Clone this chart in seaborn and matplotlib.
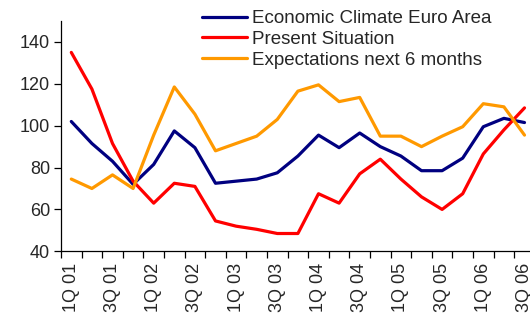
import matplotlib
matplotlib.use("Agg")
import matplotlib.pyplot as plt
import seaborn as sns
import pandas as pd
import numpy as np

quarters = ["1Q 01", "2Q 01", "3Q 01", "4Q 01",
            "1Q 02", "2Q 02", "3Q 02", "4Q 02",
            "1Q 03", "2Q 03", "3Q 03", "4Q 03",
            "1Q 04", "2Q 04", "3Q 04", "4Q 04",
            "1Q 05", "2Q 05", "3Q 05", "4Q 05",
            "1Q 06", "2Q 06", "3Q 06"]

climate = [102, 91.5, 83, 72, 81.5, 97.5, 89.5, 72.5, 73.5, 74.5, 77.5, 85.5,
           95.5, 89.5, 96.5, 90, 85.5, 78.5, 78.5, 84.5, 99.5, 103.5, 101.5]
present = [135, 117.5, 91.5, 73.5, 63, 72.5, 71, 54.5, 52, 50.5, 48.5, 48.5,
           67.5, 63, 77, 84, 74.5, 66, 60, 67.5, 86.5, 98, 108.5]
expect = [74.5, 70, 76.5, 70, 95.5, 118.5, 105.5, 88, 91.5, 95, 103, 116.5,
          119.5, 111.5, 113.5, 95, 95, 90, 95, 99.5, 110.5, 109, 95.5]

series_names = ["Economic Climate Euro Area", "Present Situation",
                "Expectations next 6 months"]
colors = ["#000080", "#FF0000", "#FF9900"]

df = pd.DataFrame({
    "pos": list(range(len(quarters))) * 3,
    "value": climate + present + expect,
    "series": sum([[n] * len(quarters) for n in series_names], []),
})

sns.set_style("white")
plt.rcParams["font.family"] = ["Liberation Sans", "DejaVu Sans"]

fig = plt.figure(figsize=(5.3, 3.25), dpi=100)
ax = fig.add_axes([61 / 530, 1 - 251.3 / 325, 473.8 / 530, (251.3 - 21) / 325])

sns.lineplot(data=df, x="pos", y="value", hue="series", hue_order=series_names,
             palette=colors, linewidth=2.3, ax=ax, legend=True)

n = len(quarters)
ax.set_xlim(-0.5, n - 0.5)
ax.set_ylim(40, 150)
ax.set_yticks(np.arange(40, 141, 20))
ax.set_xlabel("")
ax.set_ylabel("")

# boundary ticks between quarters, labels centered on every other quarter
ax.set_xticks(np.arange(-0.5, n, 1.0))
ax.set_xticklabels([])
ax.set_xticks(np.arange(0, n, 2), minor=True)
ax.set_xticklabels(quarters[::2], minor=True, rotation=90, fontsize=13)
ax.tick_params(axis="x", which="major", direction="out", length=5, width=0.9,
               color="black", bottom=True)
ax.tick_params(axis="x", which="minor", length=0, pad=8, bottom=True)
ax.tick_params(axis="y", direction="out", length=5, width=0.9, color="black",
               labelsize=13, pad=3, left=True)

for side in ["top", "right"]:
    ax.spines[side].set_visible(False)
for side in ["left", "bottom"]:
    ax.spines[side].set_color("black")
    ax.spines[side].set_linewidth(0.9)

handles, labels = ax.get_legend_handles_labels()
ax.legend(handles, labels, loc="upper left",
          bbox_to_anchor=(201.7 / 530, 1 - 10 / 325), bbox_transform=fig.transFigure,
          frameon=False, fontsize=13.5, handlelength=2.4, handletextpad=0.3,
          labelspacing=0.2, borderpad=0, borderaxespad=0)
for line in ax.get_legend().get_lines():
    line.set_linewidth(2.3)

fig.savefig("out.png", dpi=100)
